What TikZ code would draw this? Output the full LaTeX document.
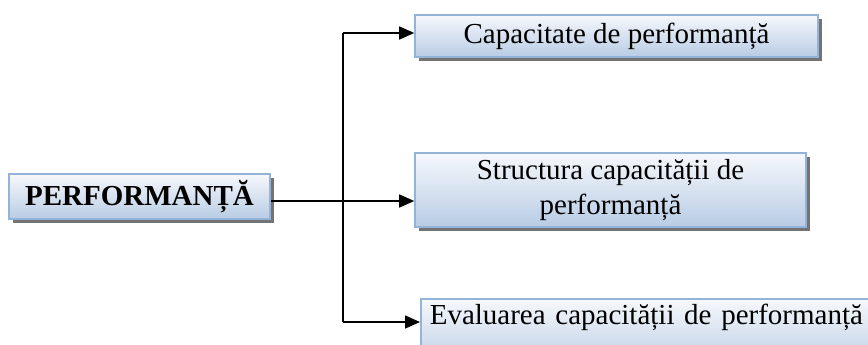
\documentclass[tikz,border=0pt]{standalone}
\usepackage{fontspec}
\setmainfont{Liberation Serif}
\usetikzlibrary{arrows.meta,shadows}

\definecolor{boxedge}{RGB}{149,179,215}
\definecolor{boxlow}{RGB}{184,204,228}
\definecolor{boxhigh}{RGB}{246,248,252}

\tikzset{
  panel/.style={draw=boxedge, line width=1.6pt, rectangle, inner sep=0pt,
    top color=boxhigh, bottom color=boxlow,
    drop shadow={shadow xshift=4pt, shadow yshift=-4pt, fill=black, opacity=0.55},
    font=\fontsize{29pt}{35pt}\selectfont},
  link/.style={line width=1.6pt, black},
  arr/.style={link, -{Triangle[length=15pt,width=13pt]}},
}

\begin{document}
\begin{tikzpicture}[x=1pt,y=-1pt]
  \clip (0,0) rectangle (868,345);
  \fill[white] (0,0) rectangle (868,345);

  % boxes
  \node[panel, minimum width=261pt, minimum height=45pt] (main) at (139.5,196.5)
    {\bfseries PERFORMANȚĂ};
  \node[panel, minimum width=403pt, minimum height=42pt] (b1) at (616.5,36)
    {Capacitate de performanță};
  \node[panel, minimum width=391pt, minimum height=74pt, align=center,
        font=\fontsize{29pt}{35pt}\selectfont] (b2) at (610.5,190)
    {Structura capacității de\\performanță};
  \node[panel, anchor=north west, inner xsep=9pt, inner ysep=5pt,
        text height=21pt, text depth=40pt, text width=440pt, align=left] (b3) at (420,298)
    {Evaluarea capacității de performanță};

  % junction points of the bracket
  \coordinate (jt) at (343,33);
  \coordinate (jm) at (343,201);
  \coordinate (jb) at (343,322);

  % connectors
  \draw[link] (jt) -- (jb);
  \draw[arr] (main.east |- jm) -- (jm -| b2.west);
  \draw[arr] (jt) -- (jt -| b1.west);
  \draw[arr] (jb) -- (jb -| b3.west);
\end{tikzpicture}
\end{document}
